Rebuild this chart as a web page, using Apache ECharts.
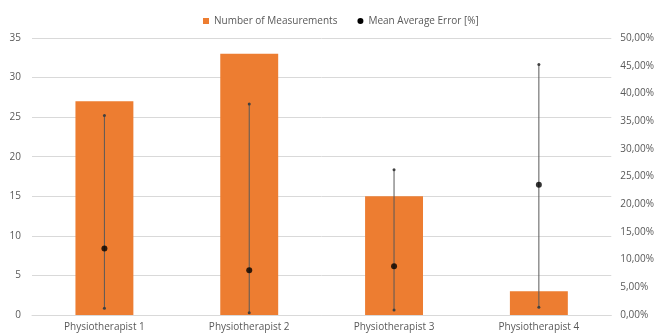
<!DOCTYPE html>
<html>
<head>
<meta charset="utf-8">
<script src="https://cdn.jsdelivr.net/npm/echarts@6/dist/echarts.min.js"></script>
<style>html,body{margin:0;padding:0;background:#fff;}#c{width:657px;height:333px;}</style>
</head>
<body>
<div id="c"></div>
<script>
const categories = ['Physiotherapist 1', 'Physiotherapist 2', 'Physiotherapist 3', 'Physiotherapist 4'];
const measurements = [27, 33, 15, 3];
const meanError = [12.0, 8.1, 8.8, 23.5];
const errLow = [1.2, 0.4, 0.9, 1.4];
const errHigh = [36.0, 38.1, 26.2, 45.2];
const leftTicks = [0, 5, 10, 15, 20, 25, 30, 35];
const rightTicks = [0, 5, 10, 15, 20, 25, 30, 35, 40, 45, 50];

const font = 'Open Sans';
const chart = echarts.init(document.getElementById('c'));
chart.setOption({
  animation: false,
  textStyle: { fontFamily: font },
  legend: {
    top: 11, left: 198, itemGap: 20, itemWidth: 6, itemHeight: 6,
    textStyle: { fontFamily: font, fontSize: 10, color: '#595959' },
    data: [
      { name: 'Number of Measurements', icon: 'rect' },
      { name: 'Mean Average Error [%]', icon: 'circle' }
    ]
  },
  grid: { left: 32, right: 44, top: 38, bottom: 18, containLabel: false },
  xAxis: {
    type: 'category', data: categories,
    axisLine: { lineStyle: { color: '#d9d9d9' } },
    axisTick: { show: false },
    axisLabel: { color: '#595959', fontSize: 10, fontFamily: font, margin: 7 }
  },
  yAxis: [
    {
      type: 'value', min: 0, max: 35, interval: 5,
      axisLine: { show: false }, axisTick: { show: false },
      axisLabel: { color: '#595959', fontSize: 10, fontFamily: font, margin: 11 },
      splitLine: { lineStyle: { color: '#d9d9d9' } }
    },
    {
      type: 'value', min: 0, max: 50, interval: 5,
      axisLine: { show: false }, axisTick: { show: false },
      axisLabel: { color: '#595959', fontSize: 10, fontFamily: font, margin: 9, align: 'left',
        formatter: v => v.toFixed(2).replace('.', ',') + '%' },
      splitLine: { show: false }
    }
  ],
  series: [
    {
      name: 'Number of Measurements', type: 'bar', data: measurements,
      barWidth: '40%', itemStyle: { color: '#ED7D31' }
    },
    {
      name: 'Mean Average Error [%]', type: 'custom', yAxisIndex: 1,
      data: categories.map((c, i) => [i, errLow[i], errHigh[i]]),
      renderItem: function (params, api) {
        const lo = api.coord([api.value(0), api.value(1)]);
        const hi = api.coord([api.value(0), api.value(2)]);
        return {
          type: 'group',
          children: [
            { type: 'line', shape: { x1: lo[0], y1: lo[1], x2: hi[0], y2: hi[1] }, style: { stroke: '#595959', lineWidth: 1 } },
            { type: 'circle', shape: { cx: lo[0], cy: lo[1], r: 1.5 }, style: { fill: '#404040' } },
            { type: 'circle', shape: { cx: hi[0], cy: hi[1], r: 1.5 }, style: { fill: '#404040' } }
          ]
        };
      },
      itemStyle: { color: '#000' },
      z: 3
    },
    {
      name: 'Mean Average Error [%]', type: 'scatter', yAxisIndex: 1,
      data: meanError, symbol: 'circle', symbolSize: 6,
      itemStyle: { color: '#000' }, z: 4
    }
  ]
});
</script>
</body>
</html>
